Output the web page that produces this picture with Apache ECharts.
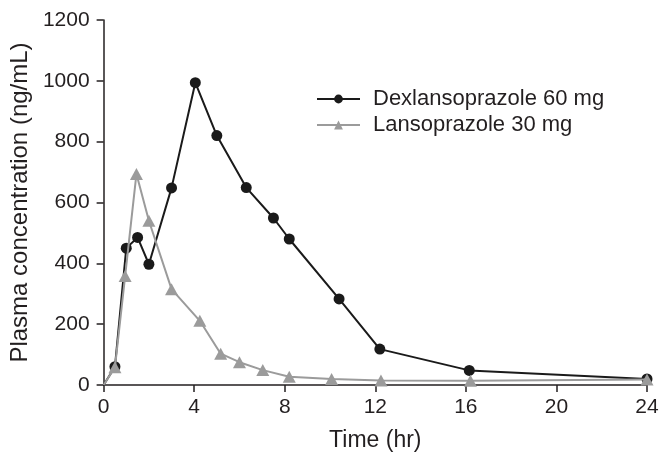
<!DOCTYPE html>
<html>
<head>
<meta charset="utf-8">
<script src="https://cdn.jsdelivr.net/npm/echarts@6/dist/echarts.min.js"></script>
<style>
html,body{margin:0;padding:0;background:#fff;}
#chart{width:670px;height:463px;}
</style>
</head>
<body>
<div id="chart"></div>
<script>
// Data
const dexName = 'Dexlansoprazole 60 mg';
const lanName = 'Lansoprazole 30 mg';
const dexTime = [0, 0.5, 1, 1.5, 2, 3, 4.05, 5.0, 6.3, 7.5, 8.2, 10.4, 12.2, 16.15, 24];
const dexConc = [0, 60, 450, 485, 397, 648, 994, 820, 649, 549, 480, 283, 118, 48, 20];
const lanTime = [0, 0.5, 0.95, 1.45, 2.0, 3.0, 4.25, 5.17, 6.0, 7.03, 8.2, 10.07, 12.25, 16.2, 24];
const lanConc = [0, 58, 358, 694, 540, 315, 211, 103, 75, 49, 27, 20, 15, 14, 18];
const xTicks = [0, 4, 8, 12, 16, 20, 24];
const yTicks = [0, 200, 400, 600, 800, 1000, 1200];

function build(times, vals) {
  return times.map((t, i) => i === 0 ? {value: [t, vals[i]], symbol: 'none'} : [t, vals[i]]);
}

const FONT = 'Liberation Sans, Arial, sans-serif';
const TXT = '#231f20';
const chart = echarts.init(document.getElementById('chart'), null, {renderer: 'canvas'});
chart.setOption({
  animation: false,
  backgroundColor: '#fff',
  textStyle: {fontFamily: FONT, color: TXT},
  grid: {left: 103.5, right: 23, top: 20, bottom: 78, containLabel: false},
  legend: {
    orient: 'vertical',
    left: 316, top: 88,
    itemWidth: 43, itemHeight: 11, itemGap: 4,
    padding: 0,
    textStyle: {fontSize: 22, color: TXT, fontFamily: FONT, padding: [0, 0, 0, 8]},
    data: [dexName, lanName]
  },
  xAxis: {
    type: 'value', min: xTicks[0], max: xTicks[xTicks.length - 1], interval: 4,
    name: 'Time (hr)', nameLocation: 'middle', nameGap: 44,
    nameTextStyle: {fontSize: 23, color: TXT, fontFamily: FONT},
    axisLine: {lineStyle: {color: '#231f20', width: 1.5}},
    axisTick: {show: true, length: 7, lineStyle: {color: '#231f20', width: 1.5}},
    axisLabel: {fontSize: 21, color: TXT, margin: 12, fontFamily: FONT, formatter: v => String(v)},
    splitLine: {show: false}
  },
  yAxis: {
    type: 'value', min: yTicks[0], max: yTicks[yTicks.length - 1], interval: 200,
    name: 'Plasma concentration (ng/mL)', nameLocation: 'middle', nameGap: 66,
    nameTextStyle: {fontSize: 24, color: TXT, fontFamily: FONT},
    axisLine: {show: true, lineStyle: {color: '#231f20', width: 1.5}},
    axisTick: {show: true, length: 7, lineStyle: {color: '#231f20', width: 1.5}},
    axisLabel: {fontSize: 21, color: TXT, margin: 14, fontFamily: FONT, formatter: v => String(v)},
    splitLine: {show: false}
  },
  series: [
    {
      name: dexName, type: 'line', data: build(dexTime, dexConc),
      symbol: 'circle', symbolSize: 11, showAllSymbol: true,
      lineStyle: {color: '#1a1a1a', width: 2},
      itemStyle: {color: '#1a1a1a'}, z: 2
    },
    {
      name: lanName, type: 'line', data: build(lanTime, lanConc),
      symbol: 'triangle', symbolSize: [13, 12], showAllSymbol: true,
      lineStyle: {color: '#9b9b9b', width: 2},
      itemStyle: {color: '#9b9b9b'}, z: 3
    }
  ]
});
</script>
</body>
</html>
